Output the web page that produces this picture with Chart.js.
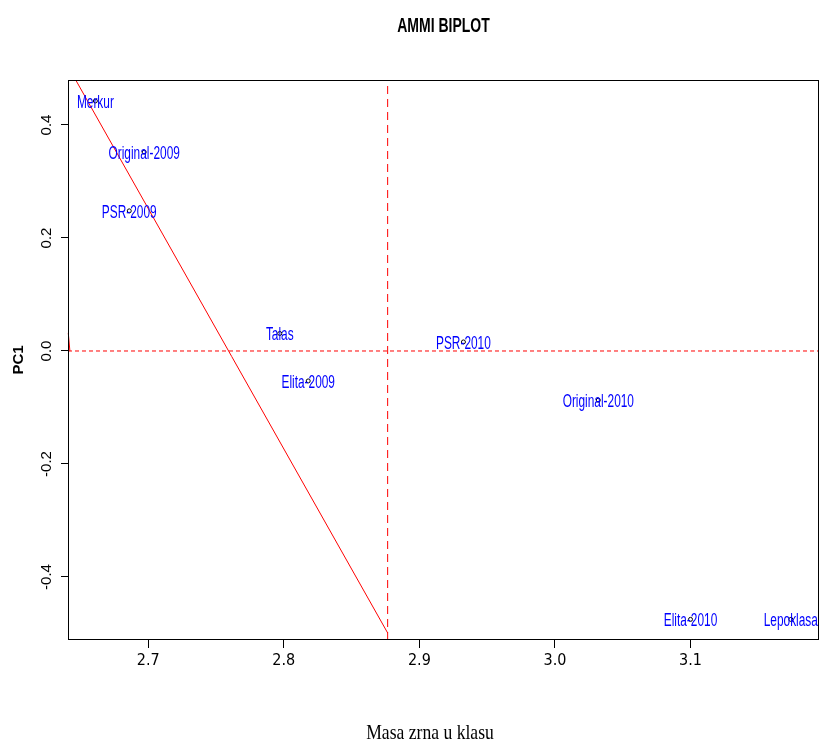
<!DOCTYPE html>
<html>
<head>
<meta charset="utf-8">
<title>AMMI BIPLOT</title>
<script src="https://cdn.jsdelivr.net/npm/chart.js@4.4.1/dist/chart.umd.min.js"></script>
<style>
  html, body { margin: 0; padding: 0; background: #fff; }
</style>
</head>
<body>
<canvas id="myChart" width="824" height="746"></canvas>
<script>
// genotypes and environments
const names = ["Merkur", "Original-2009", "PSR-2009", "Talas", "Elita-2009",
    "PSR-2010", "Original-2010", "Elita-2010", "Lepoklasa"];
const masa = [2.661, 2.697, 2.686, 2.797, 2.818, 2.9325, 3.032, 3.100, 3.174];
const pc1 = [0.4425, 0.352, 0.248, 0.031, -0.053, 0.016, -0.087, -0.475, -0.475];

const xTicks = [2.7, 2.8, 2.9, 3.0, 3.1];
const yTicks = [-0.4, -0.2, 0.0, 0.2, 0.4];
const xRange = [2.6408, 3.1948];
const yRange = [-0.5115, 0.4796];

// reference lines
const meanMasa = 2.8766;
const lineMasa = [2.6465, 2.8766];
const linePc1 = [0.4796, -0.499];
const stubMasa = [2.6410, 2.6422];
const stubPc1 = [0.032, 0.0];

function toPoints(xs, ys) {
    return xs.map((v, i) => ({x: v, y: ys[i]}));
}

function squeezeText(ctx, text, x, y, sx) {
    ctx.save();
    ctx.translate(x, y);
    ctx.scale(sx, 1);
    ctx.fillText(text, 0, 0);
    ctx.restore();
}

const biplotText = {
    id: 'biplotText',
    afterDatasetsDraw(chart) {
        const ctx = chart.ctx;
        const xs = chart.scales.x;
        const ys = chart.scales.y;
        ctx.save();
        ctx.fillStyle = '#0000ff';
        ctx.font = '18px "Liberation Sans", Arial, sans-serif';
        ctx.textAlign = 'center';
        ctx.textBaseline = 'middle';
        for (let i = 0; i < names.length; i++) {
            squeezeText(ctx, names[i], xs.getPixelForValue(masa[i]), ys.getPixelForValue(pc1[i]) + 2, 0.66);
        }
        ctx.restore();
    },
    afterDraw(chart) {
        const ctx = chart.ctx;
        const a = chart.chartArea;
        ctx.save();
        ctx.strokeStyle = '#000';
        ctx.lineWidth = 1;
        ctx.strokeRect(a.left + 0.5, a.top + 0.5, a.right - a.left - 1, a.bottom - a.top - 1);
        ctx.fillStyle = '#000';
        ctx.textAlign = 'center';
        ctx.textBaseline = 'middle';
        ctx.font = 'bold 20px "Liberation Sans", Arial, sans-serif';
        squeezeText(ctx, 'AMMI BIPLOT', (a.left + a.right) / 2, 26, 0.7);
        ctx.font = '22px "Liberation Serif", "Times New Roman", serif';
        squeezeText(ctx, 'Masa zrna u klasu', 430, 733, 0.8);
        ctx.restore();
    }
};

new Chart("myChart", {
    type: "scatter",
    data: {
        datasets: [{
            data: toPoints(masa, pc1),
            pointRadius: 2,
            pointBorderWidth: 1,
            pointBorderColor: "#000",
            pointBackgroundColor: "rgba(0,0,0,0)"
        }, {
            data: toPoints(xRange, [0, 0]),
            showLine: true,
            borderColor: "#ff0000",
            borderWidth: 1,
            borderDash: [4, 3],
            pointRadius: 0
        }, {
            data: toPoints([meanMasa, meanMasa], yRange),
            showLine: true,
            borderColor: "#ff0000",
            borderWidth: 1,
            borderDash: [8, 5],
            pointRadius: 0
        }, {
            data: toPoints(lineMasa, linePc1),
            showLine: true,
            borderColor: "#ff0000",
            borderWidth: 1,
            pointRadius: 0
        }, {
            data: toPoints(stubMasa, stubPc1),
            showLine: true,
            borderColor: "#ff0000",
            borderWidth: 1,
            pointRadius: 0,
            clip: 4
        }]
    },
    options: {
        responsive: false,
        animation: false,
        layout: {padding: {top: 80, right: 2, left: 0, bottom: 0}},
        plugins: {
            legend: {display: false},
            tooltip: {enabled: false}
        },
        scales: {
            x: {
                type: "linear",
                min: xRange[0],
                max: xRange[1],
                afterBuildTicks: s => { s.ticks = xTicks.map(v => ({value: v})); },
                afterFit: s => { s.height = 106; },
                grid: {drawOnChartArea: false, drawTicks: true, tickLength: 8, color: "#000"},
                border: {display: false},
                ticks: {
                    color: "#000",
                    padding: 3,
                    maxRotation: 0,
                    font: {family: "'Liberation Sans Narrow', 'DejaVu Sans Condensed', 'Liberation Sans', sans-serif", size: 16},
                    callback: v => Number(v).toFixed(1)
                }
            },
            y: {
                type: "linear",
                min: yRange[0],
                max: yRange[1],
                afterBuildTicks: s => { s.ticks = yTicks.map(v => ({value: v})); },
                afterFit: s => { s.width = 68; },
                grid: {drawOnChartArea: false, drawTicks: true, tickLength: 7, color: "#000"},
                border: {display: false},
                title: {
                    display: true,
                    text: "PC1",
                    color: "#000",
                    padding: {top: 10, bottom: 0},
                    font: {family: "'Liberation Sans', Arial, sans-serif", size: 15, weight: "bold"}
                },
                ticks: {
                    color: "#000",
                    padding: 1,
                    minRotation: 90,
                    maxRotation: 90,
                    crossAlign: "center",
                    font: {family: "'Liberation Sans', Arial, sans-serif", size: 15},
                    callback: v => Number(v).toFixed(1)
                }
            }
        }
    },
    plugins: [biplotText]
});
</script>
</body>
</html>
